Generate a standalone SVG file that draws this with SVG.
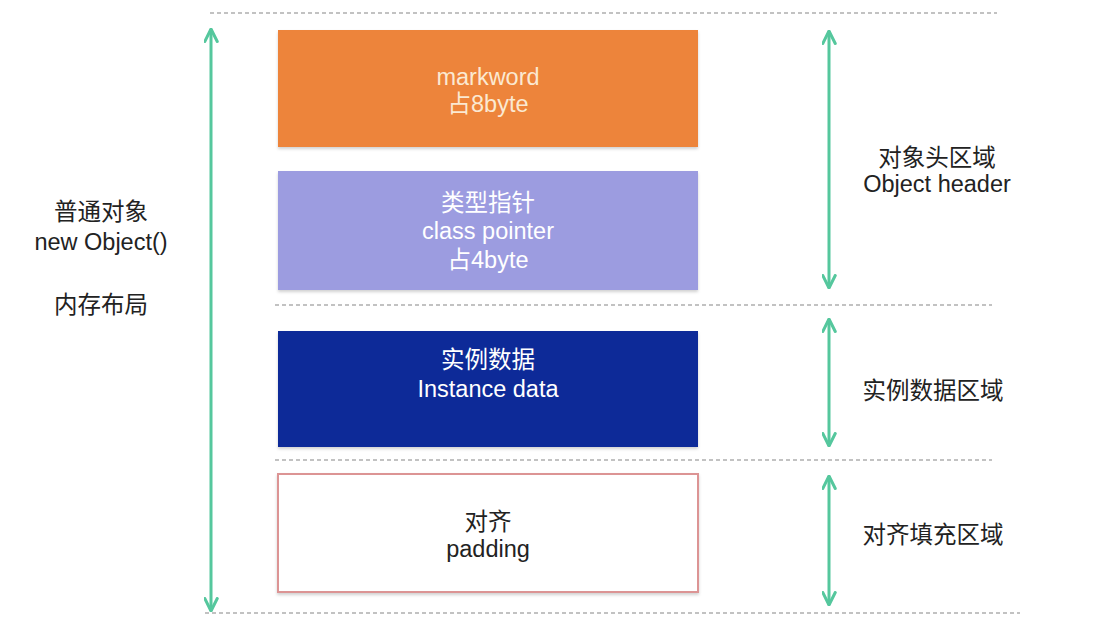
<svg xmlns="http://www.w3.org/2000/svg" width="1106" height="620" viewBox="0 0 1106 620">
  <defs>
    <style>
      .t { font-family: "Liberation Sans", Arial, "Noto Sans CJK SC", sans-serif; font-size: 23.5px; text-anchor: middle; }
      .dark { fill: #222222; }
      .light { fill: #ffffff; }
      .cream { fill: #fbe9d2; }
      .dash { stroke: #c2c2c2; stroke-width: 2; stroke-dasharray: 4 3; fill: none; }
      .arrow { stroke: #55c79d; stroke-width: 3; fill: none; marker-start: url(#head); marker-end: url(#head); }
    </style>
    <marker id="head" viewBox="0 0 12 12" refX="11" refY="6" markerWidth="5" markerHeight="5" orient="auto-start-reverse" markerUnits="strokeWidth">
      <path d="M1,1 L11,6 L1,11" fill="none" stroke="#55c79d" stroke-width="2.4" stroke-linecap="round" stroke-linejoin="round"/>
    </marker>
    <filter id="sh" x="-5%" y="-5%" width="110%" height="115%">
      <feDropShadow dx="0" dy="2" stdDeviation="1.5" flood-color="#000" flood-opacity="0.18"/>
    </filter>
  </defs>
  <rect width="1106" height="620" fill="#ffffff"/>

  <g id="separators">
    <line class="dash" x1="210" y1="13" x2="997" y2="13"/>
    <line class="dash" x1="275" y1="305" x2="992" y2="305"/>
    <line class="dash" x1="275" y1="460" x2="992" y2="460"/>
    <line class="dash" x1="205" y1="613" x2="1020" y2="613"/>
  </g>

  <g id="connectors">
    <line class="arrow" x1="211" y1="29" x2="211" y2="611"/>
    <line class="arrow" x1="829" y1="31" x2="829" y2="288"/>
    <line class="arrow" x1="829" y1="319" x2="829" y2="446"/>
    <line class="arrow" x1="829" y1="476" x2="829" y2="605"/>
  </g>

  <g id="markword">
    <rect x="278" y="30" width="420" height="117" fill="#ed843a" filter="url(#sh)"/>
    <text class="t cream" x="488" y="85">markword</text>
    <text class="t cream" x="488" y="112">占8byte</text>
  </g>

  <g id="class-pointer">
    <rect x="278" y="171" width="420" height="119" fill="#9c9ce0" filter="url(#sh)"/>
    <text class="t light" x="488" y="211">类型指针</text>
    <text class="t light" x="488" y="239">class pointer</text>
    <text class="t light" x="488" y="268">占4byte</text>
  </g>

  <g id="instance-data">
    <rect x="278" y="331" width="420" height="116" fill="#0b2a98" filter="url(#sh)"/>
    <text class="t light" x="488" y="368">实例数据</text>
    <text class="t light" x="488" y="397">Instance data</text>
  </g>

  <g id="padding">
    <rect x="278" y="474" width="420" height="118" fill="#ffffff" stroke="#dc9494" stroke-width="2" filter="url(#sh)"/>
    <text class="t dark" x="488" y="530">对齐</text>
    <text class="t dark" x="488" y="557">padding</text>
  </g>

  <g id="left-label">
    <text class="t dark" x="101" y="220">普通对象</text>
    <text class="t dark" x="101" y="250">new Object()</text>
    <text class="t dark" x="101" y="313">内存布局</text>
  </g>

  <g id="header-label">
    <text class="t dark" x="937" y="166">对象头区域</text>
    <text class="t dark" x="937" y="192">Object header</text>
  </g>

  <g id="instance-label">
    <text class="t dark" x="933" y="399">实例数据区域</text>
  </g>

  <g id="padding-label">
    <text class="t dark" x="933" y="543">对齐填充区域</text>
  </g>
</svg>
